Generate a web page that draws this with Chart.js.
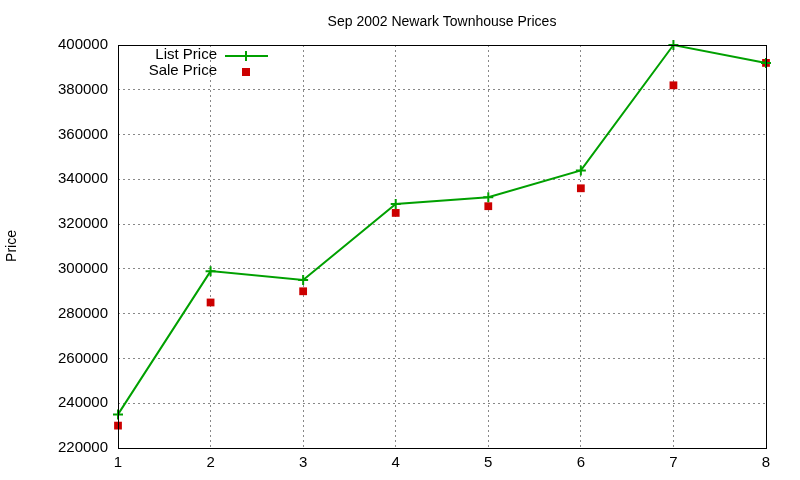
<!DOCTYPE html>
<html><head><meta charset="utf-8">
<script src="https://cdn.jsdelivr.net/npm/chart.js@4"></script>
<style>body{margin:0;background:#fff}#w{width:800px;height:480px}</style>
</head><body><div id="w"><canvas id="c"></canvas></div>
<script>
const categories = [1, 2, 3, 4, 5, 6, 7, 8];
const listPrice = [235000, 299000, 295000, 329000, 332000, 344000, 400000, 392000];
const salePrice = [230000, 285000, 290000, 325000, 328000, 336000, 382000, 392000];
const titleText = 'Sep 2002 Newark Townhouse Prices';
const yTitle = 'Price';
const GREEN = '#00a000', RED = '#cc0000';
const FONT = '"Liberation Sans", Arial, sans-serif';

const deco = {
  id: 'deco',
  afterDraw(ch) {
    const c = ch.ctx, a = ch.chartArea;
    c.save();
    c.strokeStyle = '#000'; c.lineWidth = 1;
    c.strokeRect(a.left + 0.5, a.top + 0.5, a.right - a.left, a.bottom - a.top);
    c.fillStyle = '#000';
    c.font = '14px ' + FONT;
    c.textAlign = 'center'; c.textBaseline = 'middle';
    c.fillText(titleText, 442, 22);
    c.save(); c.translate(12, 246); c.rotate(-Math.PI / 2); c.fillText(yTitle, 0, 0); c.restore();
    c.textAlign = 'right';
    c.font = '15px ' + FONT;
    c.fillText(ch.data.datasets[0].label, 217, 55);
    c.fillText(ch.data.datasets[1].label, 217, 71);
    c.strokeStyle = GREEN; c.lineWidth = 2;
    c.beginPath(); c.moveTo(225, 56); c.lineTo(268, 56);
    c.moveTo(246, 51); c.lineTo(246, 61); c.stroke();
    c.fillStyle = RED; c.fillRect(242, 68, 8, 8);
    c.restore();
  }
};

new Chart(document.getElementById('c'), {
  type: 'line',
  data: {
    datasets: [
      { label: 'List Price', data: categories.map((x, i) => ({x, y: listPrice[i]})),
        borderColor: GREEN, backgroundColor: GREEN, borderWidth: 2, pointStyle: 'cross',
        pointRadius: 5, pointBorderWidth: 2, tension: 0, clip: false },
      { label: 'Sale Price', data: categories.map((x, i) => ({x, y: salePrice[i]})),
        showLine: false, borderColor: RED, backgroundColor: RED, pointStyle: 'rect',
        pointRadius: 5.5, pointBorderWidth: 0, clip: false }
    ]
  },
  options: {
    responsive: true, maintainAspectRatio: false, animation: false,
    layout: { padding: { top: 45, right: 34, left: 0, bottom: 0 } },
    plugins: { legend: { display: false }, title: { display: false }, tooltip: { enabled: false } },
    scales: {
      x: { type: 'linear', min: 1, max: 8,
        ticks: { stepSize: 1, color: '#000', font: { size: 15, family: FONT }, padding: 6 },
        grid: { color: '#888', drawTicks: false }, border: { display: false, dash: [2, 3] },
        afterFit(s) { s.height = 32; } },
      y: { min: 220000, max: 400000,
        ticks: { stepSize: 20000, color: '#000', font: { size: 15, family: FONT }, padding: 10,
          callback: v => String(v) },
        grid: { color: '#888', drawTicks: false }, border: { display: false, dash: [2, 3] },
        afterFit(s) { s.width = 118; } }
    }
  },
  plugins: [deco]
});
</script></body></html>
